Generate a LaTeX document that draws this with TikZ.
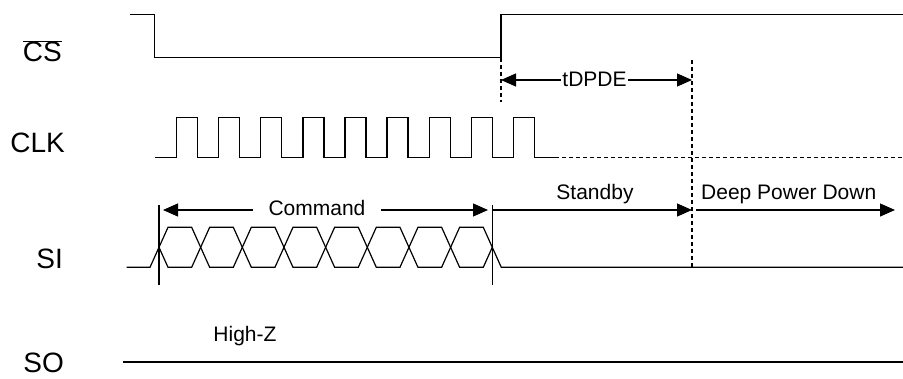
\documentclass[tikz,border=0pt]{standalone}
\usepackage{fontspec}
\setmainfont{Liberation Sans}
\usetikzlibrary{arrows.meta}
\begin{document}
\begin{tikzpicture}[x=1pt,y=-1pt,
  sig/.style={line width=1.2pt, line join=miter},
  dsh/.style={line width=1.2pt, dash pattern=on 4pt off 3pt},
  tipend/.style={line width=1.2pt, -{Triangle[length=15pt,width=13pt]}},
  tipboth/.style={line width=1.2pt, {Triangle[length=15pt,width=13pt]}-{Triangle[length=15pt,width=13pt]}},
  lbl/.style={font=\fontsize{28}{32}\selectfont, inner sep=0pt, anchor=base east},
  txt/.style={font=\fontsize{21}{24}\selectfont, inner sep=0pt}]
\useasboundingbox (0,0) rectangle (903,379);
% labels
\node[lbl] (cs) at (62,61.7) {$\overline{\hbox{CS}}$};
\node[lbl] (clk) at (65,152.3) {CLK};
\node[lbl] (si) at (63,269) {SI};
\node[lbl] (so) at (64,373) {SO};
% CS
\draw[sig] (130,14.7) -- (154.3,14.7) -- (154.3,57.3) -- (501,57.3) -- (501,14.7) -- (903,14.7);
% CLK
\draw[sig] (155,157.7) \foreach \k in {0,...,8}{ -- ({176.7+42.07*\k},157.7) -- ({176.7+42.07*\k},117.3) -- ({197.7+42.07*\k},117.3) -- ({197.7+42.07*\k},157.7) } -- (555,157.7);
\draw[dsh] (555,157.7) -- (903,157.7);
% SI
\draw[sig] (126.7,267.3) \foreach \k/\p/\n in {0/267.3/227.3, 1/227.3/267.3, 2/267.3/227.3, 3/227.3/267.3, 4/267.3/227.3, 5/227.3/267.3, 6/267.3/227.3, 7/227.3/267.3}{ -- ({159+41.66*\k-9},\p) -- ({159+41.66*\k+9},\n) } -- ({159+41.66*8-9},267.3) -- ({159+41.66*8},247.3);
\draw[sig] (159,247.3) -- (168,267.3) \foreach \k/\p/\n in {1/267.3/227.3, 2/227.3/267.3, 3/267.3/227.3, 4/227.3/267.3, 5/267.3/227.3, 6/227.3/267.3, 7/267.3/227.3, 8/227.3/267.3}{ -- ({159+41.66*\k-9},\p) -- ({159+41.66*\k+9},\n) } -- (903,267.3);
\draw[sig] (159,205) -- (159,285);
\draw[sig] (492.3,205) -- (492.3,285);
% SO
\draw[sig] (123,362) -- (903,362);
% dashed markers
\draw[dsh] (501,58) -- (501,102);
\draw[dsh] (692,60) -- (692,267);
% tDPDE
\coordinate (t1) at (501,80);
\coordinate (t2) at (692,80);
\draw[tipboth] (t1) -- (t2);
\node[txt, fill=white, inner xsep=1pt] (tdpde) at (594.5,79) {tDPDE};
% Command
\coordinate (c1) at (163,210);
\coordinate (c2) at (488,210);
\draw[tipboth] (c1) -- (c2);
\node[txt, fill=white, inner xsep=16pt] (cmd) at (317,208) {Command};
% Standby
\coordinate (s1) at (492.3,210);
\coordinate (s2) at (692,210);
\draw[tipend] (s1) -- (s2);
\node[txt, anchor=base] (stb) at (595,200) {Standby};
% Deep Power Down
\coordinate (d1) at (696,210);
\coordinate (d2) at (895,210);
\draw[tipend] (d1) -- (d2);
\node[txt, anchor=base] (dpd) at (788.7,200) {Deep Power Down};
% High-Z
\node[txt, anchor=base] (hz) at (245,342) {High-Z};
\end{tikzpicture}
\end{document}
